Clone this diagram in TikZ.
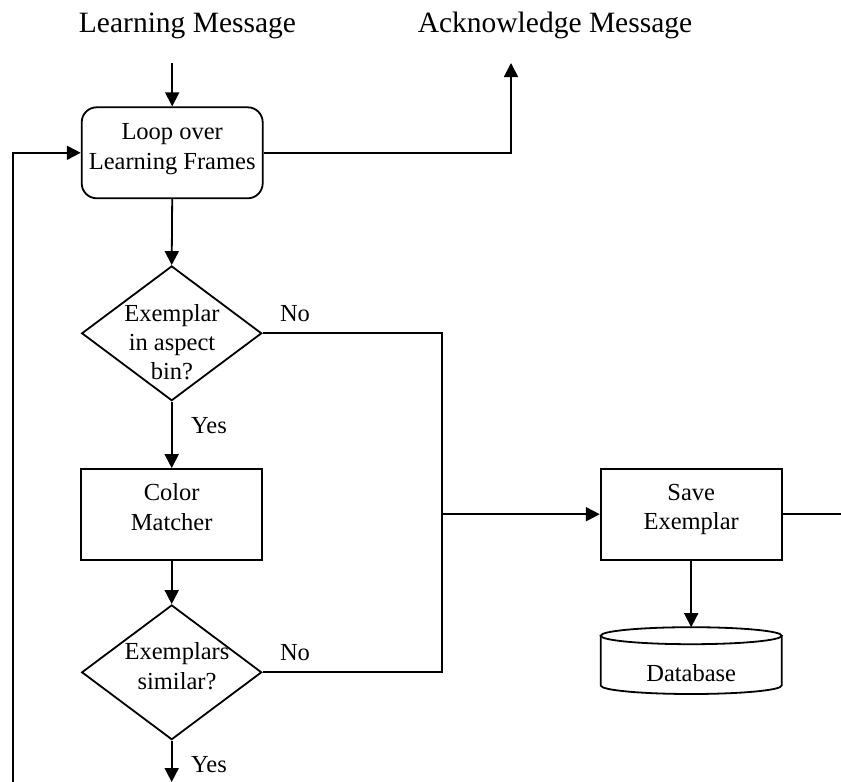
\documentclass[tikz,border=0pt]{standalone}
\usepackage{fontspec}
\setmainfont{Liberation Serif}
\usetikzlibrary{arrows.meta,shapes.geometric}
\newcommand\dropby[1]{\rule[-#1]{0pt}{#1}}
\begin{document}
\begin{tikzpicture}[x=1pt,y=-1pt,line width=1.8pt,
  arr/.style={-{Triangle[length=14pt,width=14pt]}},
  boxtext/.style={font=\fontsize{24.5}{29.3}\selectfont, align=center},
  titletext/.style={font=\fontsize{29.5}{34}\selectfont, inner sep=0pt, anchor=base},
  lbl/.style={boxtext, inner sep=0pt, anchor=base},
  procbox/.style={draw, rectangle, boxtext, minimum width=181pt, minimum height=91pt, inner sep=0pt},
  decision/.style={draw, diamond, minimum width=180pt, minimum height=134.7pt, inner sep=0pt},
  dtext/.style={boxtext, inner sep=0pt}
]
\useasboundingbox (0,0) rectangle (841,782);

% titles
\node[titletext] (lm) at (187.5,32) {Learning Message};
\node[titletext] (am) at (555,32) {Acknowledge Message};

% free ends
\coordinate (lmin) at (172.2,63);
\coordinate (ackout) at (511,63);
\coordinate (bl) at (13.3,782);
\coordinate (bout) at (171.7,782);
\coordinate (j) at (442.3,514.2);
\coordinate (rout) at (841,514.2);

% nodes
\node[procbox, rounded corners=15pt] (loop) at (172.2,152.8) {Loop over\\Learning Frames\dropby{12.8pt}};
\node[decision] (d1) at (171.7,333.3) {};
\node[dtext] (d1t) at (172,342) {Exemplar\\in aspect\\bin?};
\node[procbox] (cm) at (171.7,514.5) {Color\\Matcher\dropby{15.3pt}};
\node[decision] (d2) at (171.7,672.3) {};
\node[dtext] (d2t) at (177,666.3) {Exemplars\\similar?};
\node[procbox] (save) at (691.2,514.2) {Save\\Exemplar\dropby{14.3pt}};
\node[boxtext, minimum width=181pt, minimum height=66.8pt, inner sep=0pt, outer sep=0pt, text height=42pt, text depth=0pt] (db) at (691.2,660.6) {Database};
\draw ([yshift=-8.5pt]db.north) ellipse [x radius=90.5pt, y radius=8.5pt];
\draw ([yshift=-8.5pt]db.north west) -- ([yshift=8.5pt]db.south west)
  arc[start angle=180, end angle=360, x radius=90.5pt, y radius=8.5pt]
  -- ([yshift=-8.5pt]db.north east);

% labels
\node[lbl] (no1) at (295,321) {No};
\node[lbl] (yes1) at (209,433) {Yes};
\node[lbl] (no2) at (295,660) {No};
\node[lbl] (yes2) at (209,772) {Yes};

% connectors
\draw[arr] (lmin) -- (loop.north);
\draw[arr] (loop.east) -| (ackout);
\draw[arr] (bl) |- (loop.west);
\draw[arr] (loop.south) -- (d1.north);
\draw[arr] (d1.south) -- (cm.north);
\draw[arr] (cm.south) -- (d2.north);
\draw[arr] (d2.south) -- (bout);
\draw (d1.east) -| (j) |- (d2.east);
\draw[arr] (j) -- (save.west);
\draw (save.east) -- (rout);
\draw[arr] (save.south) -- (db.north);
\end{tikzpicture}
\end{document}
